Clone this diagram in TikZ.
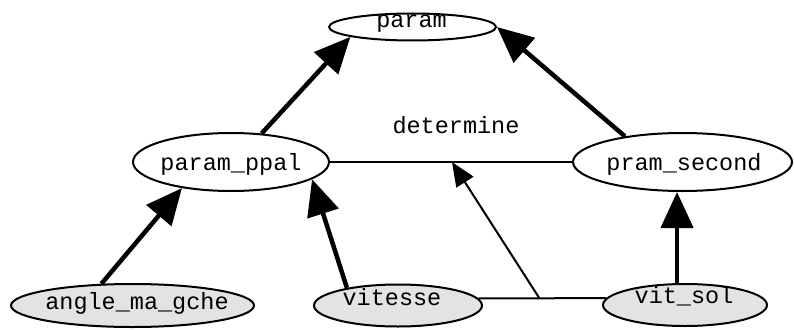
\documentclass[tikz,border=0pt]{standalone}
\usepackage{fontspec}
\setmonofont{Liberation Mono}
\usetikzlibrary{arrows.meta,shapes.geometric,calc}
\begin{document}
\begin{tikzpicture}[x=1pt,y=-1pt,
  ell/.style={ellipse,draw=black,line width=2pt,inner sep=0pt},
  shaded/.style={ell,fill=black!11},
  txt/.style={font=\ttfamily\fontsize{23.5}{28}\selectfont,anchor=base,inner sep=0pt},
  bigarrow/.style={line width=4.5pt,-{Triangle[length=36pt,width=32pt]}},
  thinline/.style={line width=2pt},
  thinarrow/.style={line width=2pt,-{Triangle[length=24pt,width=20pt]}}]
\useasboundingbox (0,0) rectangle (794,329);
% ellipses
\node[ell,minimum width=167pt,minimum height=27pt] (param) at (412.5,27) {};
\node[ell,minimum width=196pt,minimum height=58pt] (ppal) at (231,162) {};
\node[ell,minimum width=219pt,minimum height=58pt] (pram) at (682.5,162) {};
\node[shaded,minimum width=243pt,minimum height=43pt] (angle) at (132.5,305.5) {};
\node[shaded,minimum width=168pt,minimum height=42pt] (vitesse) at (398,305.5) {};
\node[shaded,minimum width=164pt,minimum height=42pt] (vitsol) at (685,305) {};
% texts
\node[txt] (tparam) at (411.5,28) {param};
\node[txt] (tppal) at (231,170) {param\_ppal};
\node[txt] (tpram) at (684,170) {pram\_second};
\node[txt] (tdet) at (456,133) {determine};
\node[txt] (tangle) at (137,309) {angle\_ma\_gche};
\node[txt] (tvitesse) at (392,305) {vitesse};
\node[txt] (tvitsol) at (684,303) {vit\_sol};
% connectors
\draw[bigarrow] (ppal.43) -- (param.189);
\draw[bigarrow] (pram.156) -- (param.east);
\draw[bigarrow] (angle.145) -- (ppal.208);
\draw[bigarrow] (vitesse.161) -- (ppal.-12);
\draw[bigarrow] (vitsol.110) -- (vitsol.110 |- pram.south);
\draw[thinline] (ppal.east) -- coordinate[pos=0.504] (dtop) (pram.west);
\draw[thinline] (vitesse.5) -- coordinate[pos=0.477] (jn) (vitsol.175);
\draw[thinarrow] (jn) -- (dtop);
\end{tikzpicture}
\end{document}
